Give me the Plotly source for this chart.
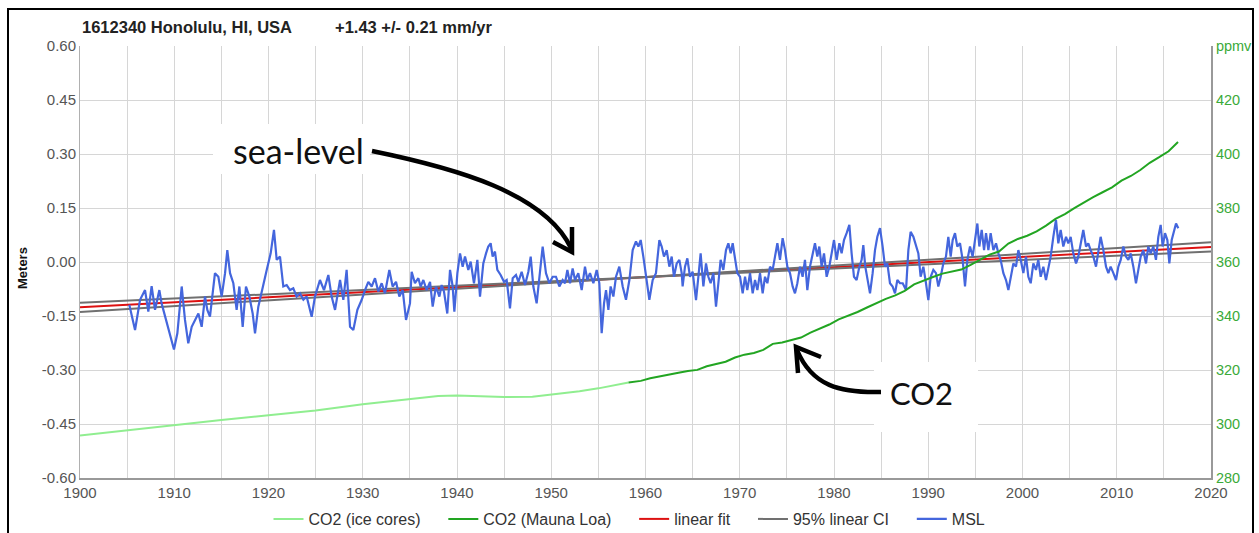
import plotly.graph_objects as go

# ---------------- data ----------------
x_ticks = [1900, 1910, 1920, 1930, 1940, 1950, 1960, 1970, 1980, 1990, 2000, 2010, 2020]
x_labels = [str(v) for v in x_ticks]
y_ticks = [-0.60, -0.45, -0.30, -0.15, 0.00, 0.15, 0.30, 0.45, 0.60]
y_labels = ["-0.60", "-0.45", "-0.30", "-0.15", "0.00", "0.15", "0.30", "0.45", "0.60"]
y2_ticks = [280, 300, 320, 340, 360, 380, 400, 420, 440]
y2_labels = ["280", "300", "320", "340", "360", "380", "400", "420", "ppmv"]

ice_years = [1900, 1905, 1910, 1915, 1920, 1925, 1930, 1935, 1938, 1940, 1942,
             1945, 1948, 1950, 1953, 1955, 1958.2]
ice_ppmv = [295.7, 297.6, 299.7, 301.5, 303.2, 305.0, 307.3, 309.3, 310.4, 310.6, 310.4,
            310.0, 310.1, 310.8, 312.1, 313.2, 315.4]

mlo_years = [1958.2, 1959.5, 1960.5, 1961.5, 1962.5, 1963.5, 1964.5, 1965.5, 1966.5, 1967.5,
             1968.5, 1969.5, 1970.5, 1971.5, 1972.5, 1973.5, 1974.5, 1975.5, 1976.5, 1977.5,
             1978.5, 1979.5, 1980.5, 1981.5, 1982.5, 1983.5, 1984.5, 1985.5, 1986.5, 1987.5,
             1988.5, 1989.5, 1990.5, 1991.5, 1992.5, 1993.5, 1994.5, 1995.5, 1996.5, 1997.5,
             1998.5, 1999.5, 2000.5, 2001.5, 2002.5, 2003.5, 2004.5, 2005.5, 2006.5, 2007.5,
             2008.5, 2009.5, 2010.5, 2011.5, 2012.5, 2013.5, 2014.5, 2015.5, 2016.5]
mlo_ppmv = [315.4, 315.97, 316.91, 317.64, 318.45, 318.99, 319.62, 320.04, 321.37, 322.18,
            323.05, 324.62, 325.68, 326.32, 327.46, 329.68, 330.19, 331.13, 332.03, 333.84,
            335.41, 336.84, 338.76, 340.12, 341.48, 343.15, 344.87, 346.35, 347.61, 349.31,
            351.69, 353.20, 354.45, 355.70, 356.54, 357.21, 358.96, 360.97, 362.74, 363.88,
            366.84, 368.54, 369.71, 371.32, 373.45, 375.98, 377.70, 379.98, 382.09, 384.02,
            385.83, 387.64, 390.10, 391.85, 394.06, 396.74, 398.81, 401.01, 404.41]

fit_years = [1900, 2020]
fit_m = [-0.126, 0.042]
ci_steep_m = [-0.1386, 0.0546]
ci_flat_m = [-0.1134, 0.0294]

msl_years = [
    1905.23, 1905.84, 1906.37, 1906.90, 1907.25, 1907.60, 1907.96, 1908.42, 1908.66, 1909.20,
    1909.55, 1909.97, 1910.33, 1910.79, 1911.14, 1911.49, 1911.85, 1912.20, 1912.56, 1912.91,
    1913.26, 1913.51, 1913.79, 1914.32, 1914.68, 1915.03, 1915.39, 1915.63, 1915.92, 1916.27,
    1916.62, 1916.91, 1917.26, 1917.61, 1917.97, 1918.32, 1918.57, 1918.92, 1919.38, 1919.81,
    1920.23, 1920.58, 1920.87, 1921.22, 1921.57, 1921.93, 1922.28, 1922.63, 1922.99, 1923.34,
    1923.70, 1924.05, 1924.58, 1924.93, 1925.46, 1925.89, 1926.35, 1926.70, 1927.06, 1927.59,
    1927.94, 1928.29, 1928.65, 1929.00, 1929.43, 1929.89, 1930.24, 1930.59, 1930.95, 1931.30,
    1931.65, 1932.01, 1932.36, 1932.82, 1933.17, 1933.53, 1933.88, 1934.24, 1934.59, 1935.01,
    1935.19, 1935.54, 1935.90, 1936.14, 1936.43, 1936.78, 1937.14, 1937.42, 1937.77, 1938.13,
    1938.37, 1938.62, 1938.97, 1939.26, 1939.54, 1939.72, 1940.04, 1940.32, 1940.60, 1940.85,
    1941.20, 1941.45, 1941.80, 1942.16, 1942.44, 1942.79, 1943.08, 1943.32, 1943.57, 1943.78,
    1944.03, 1944.28, 1944.63, 1944.99, 1945.27, 1945.62, 1945.91, 1946.26, 1946.51, 1946.86,
    1947.22, 1947.57, 1947.82, 1948.10, 1948.45, 1948.74, 1949.09, 1949.44, 1949.80, 1950.15,
    1950.50, 1950.86, 1951.21, 1951.46, 1951.71, 1951.99, 1952.27, 1952.52, 1952.87, 1953.23,
    1953.58, 1953.83, 1954.11, 1954.47, 1954.82, 1955.10, 1955.35, 1955.60, 1955.81, 1956.06,
    1956.30, 1956.59, 1956.87, 1957.22, 1957.58, 1957.93, 1958.29, 1958.64, 1958.99, 1959.24,
    1959.49, 1959.77, 1960.05, 1960.41, 1960.76, 1961.11, 1961.47, 1961.72, 1961.96, 1962.25,
    1962.53, 1962.78, 1963.02, 1963.31, 1963.59, 1963.84,
    1963.94, 1964.19, 1964.44, 1964.72, 1965.00, 1965.36, 1965.61, 1965.85, 1966.14, 1966.42,
    1966.67, 1966.91, 1967.20, 1967.48, 1967.73, 1967.97, 1968.26, 1968.54, 1968.79, 1969.04,
    1969.25, 1969.50, 1969.74, 1970.03, 1970.31, 1970.56, 1970.80, 1971.09, 1971.37, 1971.62,
    1971.87, 1972.15, 1972.43, 1972.68, 1972.93, 1973.21, 1973.49, 1973.74, 1973.99, 1974.27,
    1974.55, 1974.80, 1975.05, 1975.33, 1975.61, 1975.86, 1976.11, 1976.39, 1976.67, 1976.92,
    1977.17, 1977.45, 1977.74, 1977.98, 1978.23, 1978.44, 1978.69, 1978.94, 1979.22, 1979.50,
    1979.75, 1980.00, 1980.28, 1980.57, 1980.81, 1981.06, 1981.34, 1981.63, 1981.87, 1982.12,
    1982.40, 1982.69, 1982.93, 1983.11, 1983.32, 1983.57, 1983.82, 1984.10, 1984.35, 1984.60,
    1984.88, 1985.16, 1985.41, 1985.66, 1985.94, 1986.22, 1986.47, 1986.72, 1987.00, 1987.29,
    1987.64, 1987.89, 1988.13, 1988.42, 1988.70, 1988.95, 1989.19, 1989.48, 1989.76, 1990.01,
    1990.26, 1990.54, 1990.82, 1991.07, 1991.32, 1991.60, 1991.88, 1992.13, 1992.38, 1992.59,
    1992.84, 1993.08, 1993.37, 1993.65,
    1993.90, 1994.15, 1994.43, 1994.71, 1994.96, 1995.21, 1995.42, 1995.67, 1995.92, 1996.13,
    1996.38, 1996.62, 1996.91, 1997.19, 1997.44, 1997.68, 1997.97, 1998.25, 1998.50, 1998.75,
    1999.03, 1999.31, 1999.56, 1999.81, 2000.09, 2000.37, 2000.62, 2000.87, 2001.15, 2001.43,
    2001.68, 2001.93, 2002.21, 2002.49, 2002.74, 2002.99, 2003.27, 2003.55, 2003.80, 2004.05,
    2004.33, 2004.62, 2004.86, 2005.11, 2005.39, 2005.68, 2005.92, 2006.17, 2006.45, 2006.74,
    2006.98, 2007.23, 2007.52, 2007.80, 2008.05, 2008.29, 2008.58, 2008.86, 2009.11, 2009.35,
    2009.64, 2009.92, 2010.17, 2010.42, 2010.70, 2010.98, 2011.23, 2011.48, 2011.76, 2012.04,
    2012.29, 2012.54, 2012.82, 2013.10, 2013.35, 2013.60, 2013.88, 2014.16, 2014.41, 2014.66,
    2014.87, 2015.12, 2015.37, 2015.58, 2015.83, 2016.07, 2016.29, 2016.53,
]
msl_m = [
    -0.119, -0.189, -0.105, -0.078, -0.138, -0.067, -0.133, -0.078, -0.115, -0.170,
    -0.207, -0.243, -0.198, -0.068, -0.161, -0.226, -0.180, -0.161, -0.143, -0.180,
    -0.096, -0.133, -0.152, -0.031, -0.041, -0.096, -0.031, 0.033, -0.031, -0.059,
    -0.133, -0.068, -0.180, -0.068, -0.096, -0.143, -0.198, -0.124, -0.068, -0.022,
    0.024, 0.089, 0.006, 0.015, -0.068, -0.064, -0.078, -0.073, -0.096, -0.087,
    -0.105, -0.096, -0.152, -0.096, -0.050, -0.078, -0.036, -0.096, -0.133, -0.050,
    -0.105, -0.022, -0.180, -0.189, -0.133, -0.105, -0.078, -0.055, -0.068, -0.045,
    -0.082, -0.059, -0.087, -0.022, -0.068, -0.055, -0.096, -0.078, -0.161, -0.115,
    -0.027, -0.059, -0.045, -0.068, -0.050, -0.078, -0.055, -0.124, -0.068, -0.096,
    -0.064, -0.082, -0.143, -0.022, -0.068, -0.138, -0.031, 0.024, -0.013, 0.015,
    -0.022, 0.001, -0.059, 0.006, -0.096, -0.004, 0.024, 0.043, 0.052, 0.015,
    0.029, -0.022, -0.036, -0.055, -0.050, -0.129, -0.045, -0.036, -0.055, -0.027,
    -0.064, -0.027, 0.015, -0.068, -0.115, -0.050, 0.043, -0.031, -0.059, -0.041,
    -0.041, -0.068, -0.050, -0.059, -0.022, -0.059, -0.018, -0.050, -0.031, -0.078,
    -0.013, -0.050, -0.031, -0.059, -0.022, -0.059, -0.198, -0.115, -0.078, -0.133,
    -0.068, -0.096, -0.041, -0.013, -0.068, -0.105, -0.050, 0.033, 0.057, 0.043,
    0.061, 0.015, -0.041, -0.105, -0.050, -0.031, 0.061, 0.043, 0.015, 0.033,
    -0.013, 0.015, -0.041, -0.004, 0.006, -0.031,
    -0.068, -0.013, 0.010, -0.041, -0.027, -0.106, -0.041, 0.024, -0.068, -0.004,
    -0.041, -0.059, -0.031, -0.124, -0.059, 0.006, -0.022, 0.033, 0.052, 0.024,
    0.052, 0.006, -0.031, -0.041, -0.087, -0.041, -0.078, -0.031, -0.087, -0.050,
    -0.078, -0.031, -0.087, -0.041, -0.059, -0.013, -0.022, 0.015, 0.052, 0.006,
    0.066, 0.033, -0.013, -0.031, -0.068, -0.087, -0.059, -0.013, -0.041, 0.006,
    -0.078, -0.013, 0.024, 0.052, 0.015, 0.043, -0.013, 0.024, -0.041, -0.013,
    0.024, 0.061, 0.006, 0.052, 0.024, 0.061, 0.080, 0.103, 0.024, -0.041,
    -0.050, -0.013, 0.006, 0.047, -0.013, -0.050, -0.087, -0.031, 0.033, 0.070,
    0.094, 0.043, -0.013, -0.004, -0.059, -0.068, -0.087, -0.050, -0.059, -0.059,
    -0.078, 0.033, 0.084, 0.070, 0.043, 0.024, -0.041, -0.013, -0.059, -0.106,
    -0.041, -0.022, -0.031, -0.068, -0.041, -0.004, 0.015, 0.070, 0.015, 0.061,
    0.080, 0.043, 0.052, 0.006,
    -0.068, 0.006, 0.043, 0.015, 0.061, 0.107, 0.043, 0.089, 0.033, 0.080,
    0.033, 0.080, 0.033, 0.052, 0.024, 0.006, -0.031, -0.050, -0.078, -0.041,
    -0.004, -0.013, 0.033, 0.006, -0.031, 0.015, -0.041, -0.059, -0.004, -0.022,
    0.006, -0.041, -0.013, -0.050, -0.013, 0.015, 0.070, 0.117, 0.052, 0.089,
    0.043, 0.070, 0.052, 0.070, 0.024, -0.004, 0.015, 0.052, 0.089, 0.043,
    0.052, 0.033, 0.015, -0.013, 0.024, 0.070, 0.033, -0.013, -0.031, -0.013,
    -0.031, -0.050, -0.013, 0.006, 0.043, 0.015, 0.006, 0.024, -0.013, -0.059,
    -0.022, 0.015, 0.033, -0.004, 0.043, 0.024, 0.043, 0.006, 0.070, 0.103,
    0.043, 0.080, 0.061, -0.004, 0.061, 0.089, 0.107, 0.094,
]

# ---------------- layout helpers (pixel -> paper) ----------------
W, H = 1259, 533
PL, PR, PT, PB = 80, 1211, 46, 478


def px(x):
    return (x - PL) / (PR - PL)


def py(y):
    return (PB - y) / (PB - PT)


GREEN_TXT = "#3aaa3a"
FONT = "Liberation Sans, Arial, sans-serif"
PAD = "\u00a0\u00a0\u00a0\u00a0"

fig = go.Figure()
fig.add_trace(go.Scatter(x=ice_years, y=ice_ppmv, yaxis="y2", mode="lines",
                         name="CO2 (ice cores)" + PAD, line=dict(color="#90ee90", width=2)))
fig.add_trace(go.Scatter(x=mlo_years, y=mlo_ppmv, yaxis="y2", mode="lines",
                         name="CO2 (Mauna Loa)" + PAD, line=dict(color="#22a522", width=2)))
fig.add_trace(go.Scatter(x=fit_years, y=fit_m, mode="lines", name="linear fit" + PAD,
                         line=dict(color="#dd1111", width=2)))
fig.add_trace(go.Scatter(x=fit_years, y=ci_steep_m, mode="lines", name="95% linear CI" + PAD,
                         legendgroup="ci", line=dict(color="#707070", width=2)))
fig.add_trace(go.Scatter(x=fit_years, y=ci_flat_m, mode="lines", name="95% linear CI",
                         legendgroup="ci", showlegend=False, line=dict(color="#707070", width=2)))
fig.add_trace(go.Scatter(x=msl_years, y=msl_m, mode="lines", name="MSL",
                         line=dict(color="#4466dd", width=2.2)))

grid = "#d6d6d6"
fig.update_layout(
    width=W, height=H,
    margin=dict(l=PL, r=W - PR, t=PT, b=H - PB, autoexpand=False),
    paper_bgcolor="white", plot_bgcolor="white",
    font=dict(family=FONT, size=15, color="#555555"),
    xaxis=dict(range=[1900, 2020], tickmode="array", tickvals=x_ticks, ticktext=x_labels,
               showgrid=True, gridcolor=grid, gridwidth=1,
               minor=dict(tick0=1905, dtick=10, showgrid=True, gridcolor=grid, gridwidth=1),
               showline=True, linecolor="#999999", linewidth=2, zeroline=False,
               ticks="", tickfont=dict(size=15, color="#555555")),
    yaxis=dict(range=[-0.6, 0.6], tickmode="array", tickvals=y_ticks, ticktext=y_labels,
               showgrid=True, gridcolor=grid, gridwidth=1, zeroline=False,
               showline=True, linecolor="#b0b0b0", linewidth=1,
               ticks="", tickfont=dict(size=15, color="#555555")),
    yaxis2=dict(range=[280, 440], overlaying="y", side="right", tickmode="array",
                tickvals=y2_ticks, ticktext=y2_labels, showgrid=False, zeroline=False,
                showline=True, linecolor="#999999", linewidth=2, ticks="",
                tickfont=dict(size=14.5, color=GREEN_TXT)),
    legend=dict(orientation="h", x=0.5, xanchor="center", xref="container",
                y=1 - 519 / H, yanchor="middle", yref="container",
                font=dict(size=16, color="#333333"), bgcolor="rgba(0,0,0,0)"),
    showlegend=True,
)

shapes = [
    # outer black frame of the screenshot
    dict(type="rect", xref="paper", yref="paper", x0=px(8), x1=px(1253), y0=py(9), y1=py(545),
         line=dict(color="black", width=2), fillcolor="rgba(0,0,0,0)", layer="above"),
    # white patches behind hand-written labels
    dict(type="rect", xref="paper", yref="paper", x0=px(213), x1=px(370), y0=py(124), y1=py(174),
         line=dict(width=0), fillcolor="white", layer="above"),
    dict(type="rect", xref="paper", yref="paper", x0=px(874), x1=px(978), y0=py(362), y1=py(432),
         line=dict(width=0), fillcolor="white", layer="above"),
]


def path_px(cmds):
    out = []
    for c in cmds:
        if isinstance(c, str):
            out.append(c)
        else:
            out.append(f"{px(c[0]):.5f},{py(c[1]):.5f}")
    return " ".join(out)


arrow_style = dict(type="path", xref="paper", yref="paper", layer="above",
                   line=dict(color="black", width=4.5), fillcolor="rgba(0,0,0,0)")
shapes.append(dict(arrow_style, path=path_px(["M", (372, 151), "C", (455, 168), (545, 193), (571, 248)])))
shapes.append(dict(arrow_style, path=path_px(["M", (572, 227), "L", (572, 252), "L", (553, 242)])))
shapes.append(dict(arrow_style, path=path_px(["M", (881, 392), "C", (840, 393), (812, 386), (797, 350)])))
shapes.append(dict(arrow_style, path=path_px(["M", (798, 373), "L", (796, 347), "L", (821, 357)])))
fig.update_layout(shapes=shapes)

annotations = [
    dict(text="<b>1612340 Honolulu, HI, USA</b>", x=px(80), y=py(27), xref="paper", yref="paper",
         xanchor="left", yanchor="middle", showarrow=False, font=dict(size=16.5, color="#222222")),
    dict(text="<b>+1.43 +/- 0.21 mm/yr</b>", x=px(333), y=py(27), xref="paper", yref="paper",
         xanchor="left", yanchor="middle", showarrow=False, font=dict(size=16.5, color="#222222")),
    dict(text="<b>Meters</b>", x=px(22), y=py(268), xref="paper", yref="paper", textangle=-90,
         xanchor="center", yanchor="middle", showarrow=False, font=dict(size=13, color="#111111")),
    dict(text="sea-level", x=px(298), y=py(150), xref="paper", yref="paper",
         xanchor="center", yanchor="middle", showarrow=False,
         font=dict(family="Lato, sans-serif", size=34, color="#111111")),
    dict(text="CO2", x=px(921), y=py(393), xref="paper", yref="paper",
         xanchor="center", yanchor="middle", showarrow=False,
         font=dict(family="Lato, sans-serif", size=31, color="#111111")),
]
fig.update_layout(annotations=annotations)

fig.write_html("out.html")
